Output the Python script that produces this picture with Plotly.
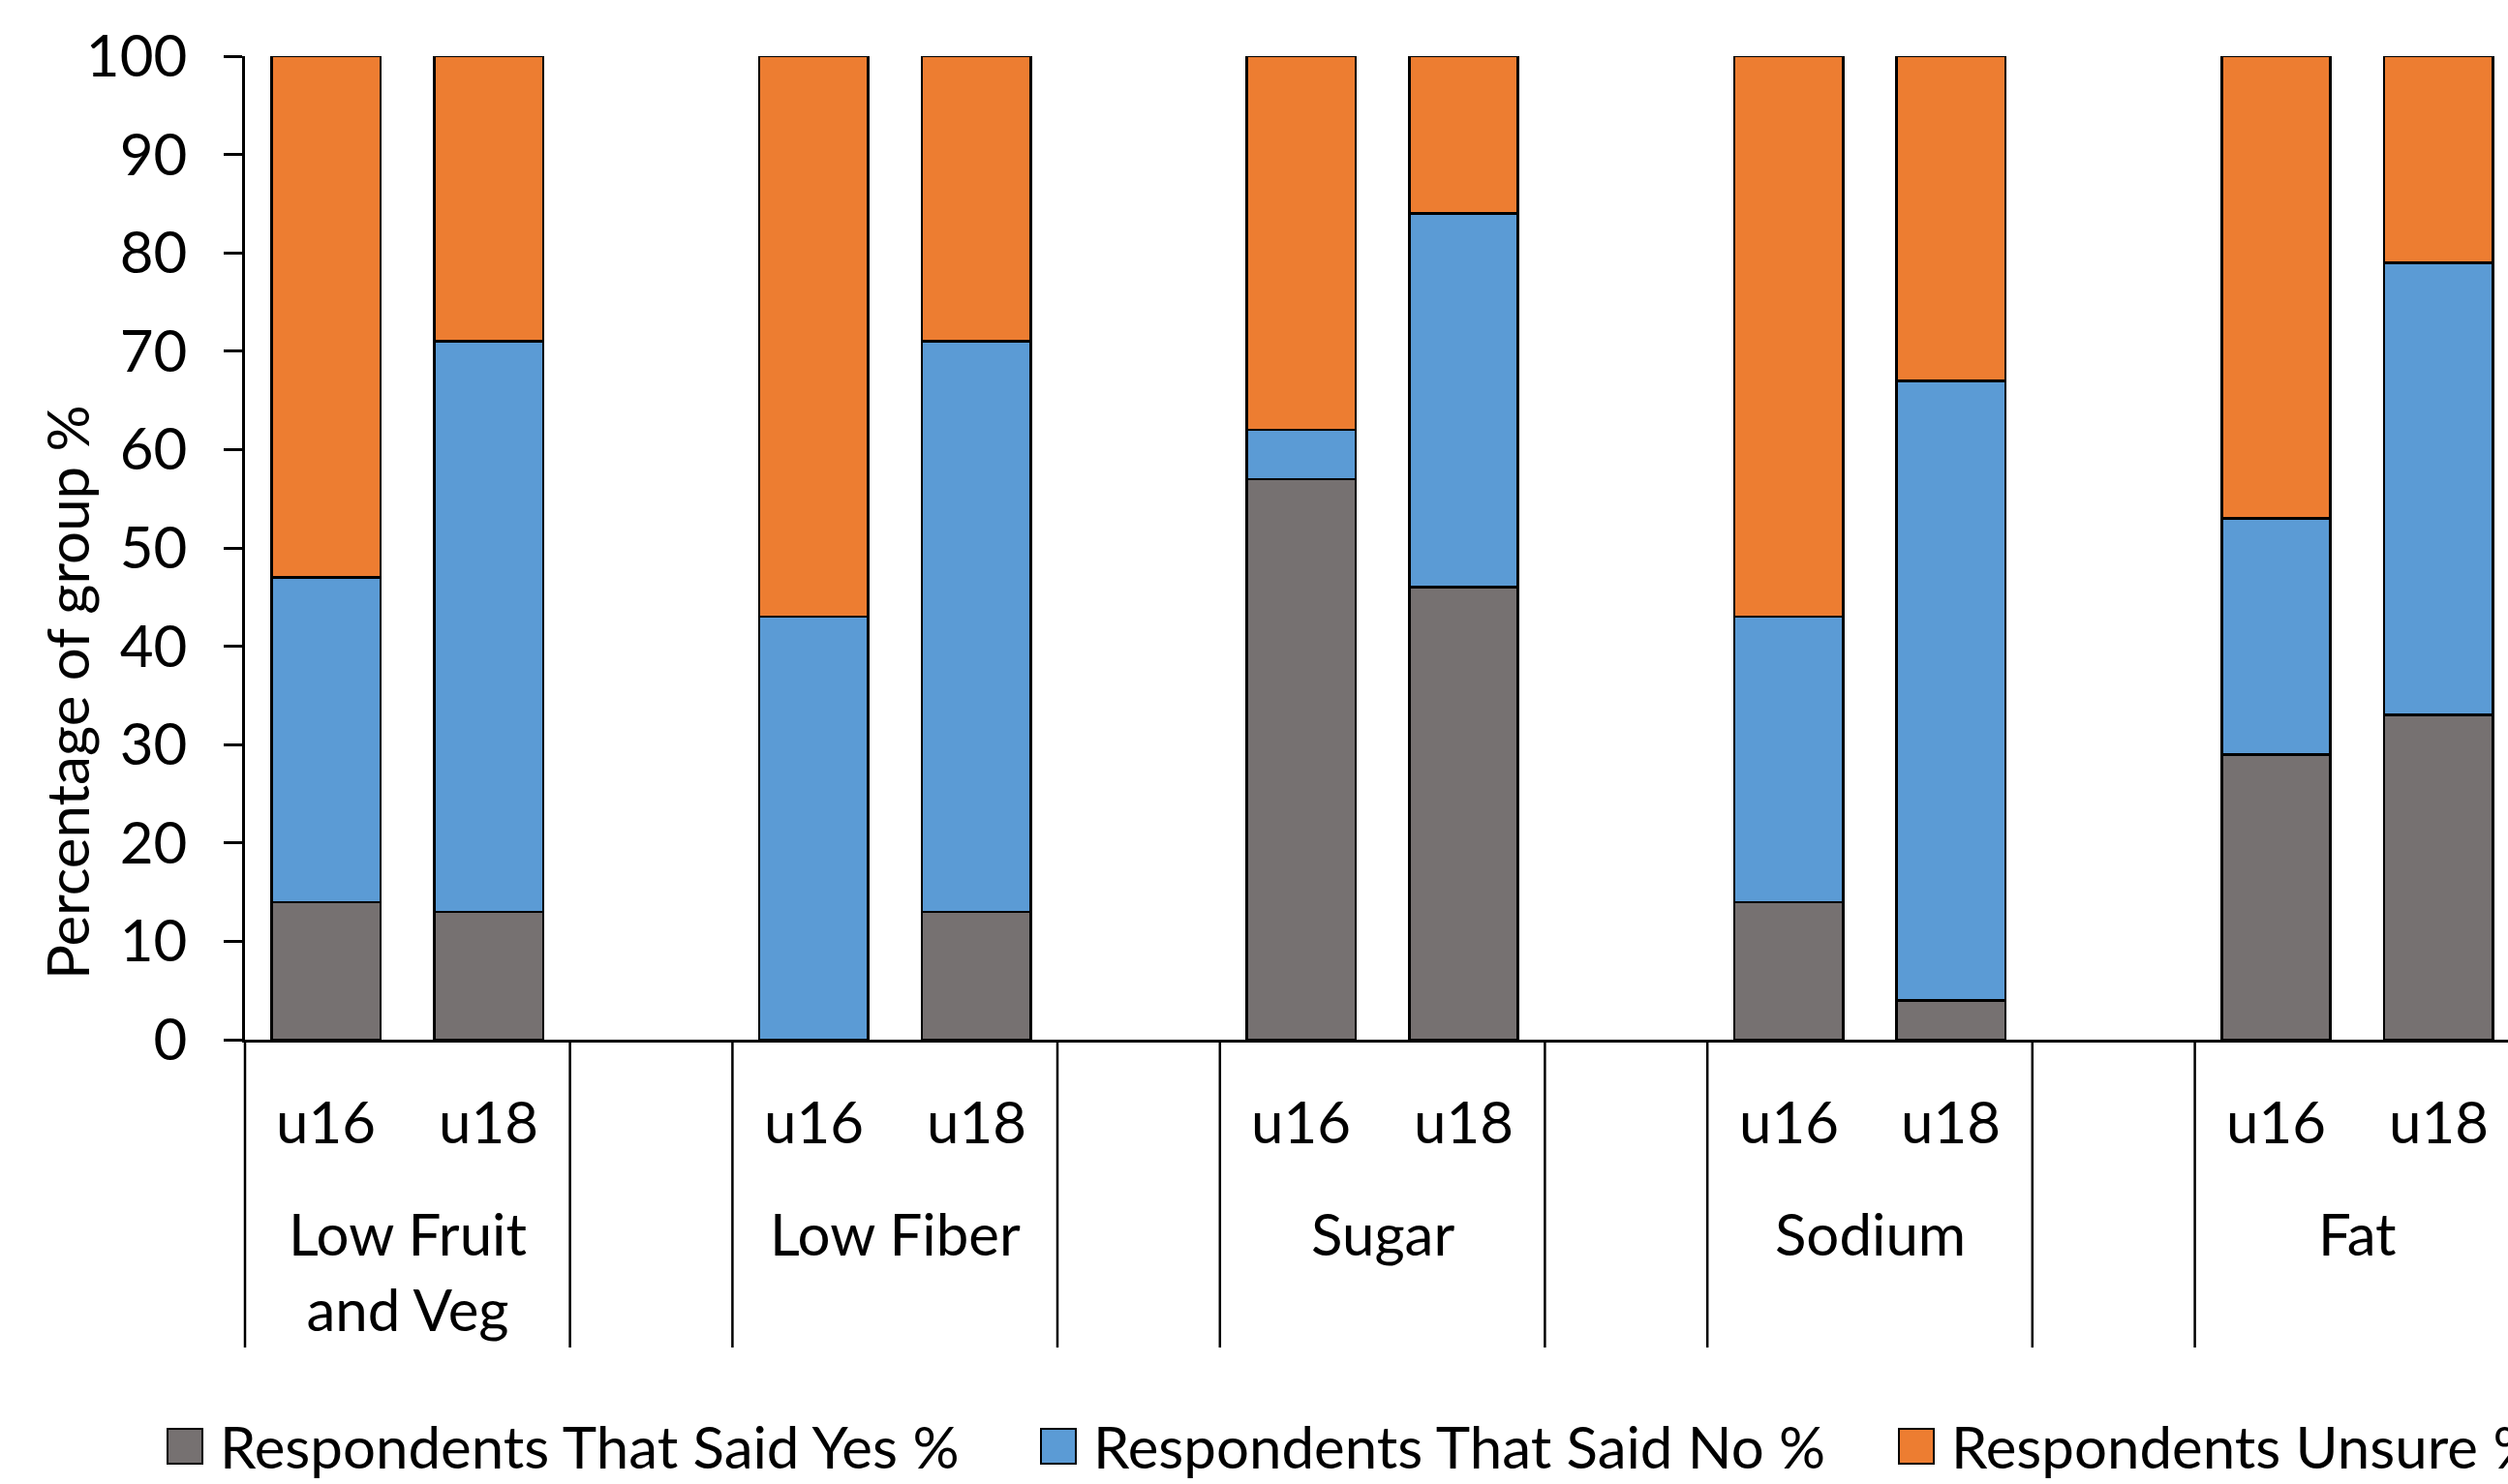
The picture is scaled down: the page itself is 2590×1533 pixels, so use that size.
import plotly.graph_objects as go

# ---- data ----
groups = ["Low Fruit<br>and Veg", "Low Fiber", "Sugar", "Sodium", "Fat"]
ages = ["u16", "u18"]
series_names = ["Respondents That Said Yes %", "Respondents That Said No %", "Respondents Unsure %"]
yes_vals = [14, 13, 0, 13, 57, 46, 14, 4, 29, 33]
no_vals = [33, 58, 43, 58, 5, 38, 29, 63, 24, 46]
unsure_vals = [53, 29, 57, 29, 38, 16, 57, 33, 47, 21]
y_ticks = list(range(0, 101, 10))
colors = ["#767171", "#5B9BD5", "#ED7D31"]

# ---- layout geometry ----
W, H = 2590, 1533
L, T, B = 253, 58, 459
plot_w = W - L
plot_h = H - T - B
slot_px = 167.8
x0 = -0.5
x1 = x0 + plot_w / slot_px
FONT = "Lato"
FS = 60

def px_to_paper_x(px):
    return (px - L) / plot_w

def px_to_paper_y(py):
    return (H - B - py) / plot_h

def data_to_paper_x(xv):
    return (xv - x0) / (x1 - x0)

# each group occupies 2 slots followed by one blank slot
xs = [3 * g + s for g in range(len(groups)) for s in range(len(ages))]

fig = go.Figure()
for name, vals, col in zip(series_names, [yes_vals, no_vals, unsure_vals], colors):
    fig.add_trace(go.Bar(
        x=xs, y=vals, name=name, width=0.67,
        marker=dict(color=col, line=dict(color="black", width=2.5)),
        showlegend=False,
    ))

shapes = []
annotations = []

# category separators (multi-level axis)
sep_bottom = px_to_paper_y(1392)
for g in range(len(groups)):
    for edge in (3 * g - 0.5, 3 * g + 1.5):
        xp = data_to_paper_x(edge)
        if xp <= 1.0:
            shapes.append(dict(type="line", xref="paper", yref="paper",
                               x0=xp, x1=xp, y0=0, y1=sep_bottom,
                               line=dict(color="black", width=2.5)))

# sub-category labels
for i, xv in enumerate(xs):
    annotations.append(dict(x=xv, y=px_to_paper_y(1158), xref="x", yref="paper",
                            text=ages[i % len(ages)], showarrow=False,
                            font=dict(family=FONT, size=FS, color="black"),
                            xanchor="center", yanchor="middle"))
# group labels
for g, gname in enumerate(groups):
    annotations.append(dict(x=3 * g + 0.5, y=px_to_paper_y(1236), xref="x", yref="paper",
                            text=gname, showarrow=False,
                            font=dict(family=FONT, size=FS, color="black"),
                            xanchor="center", yanchor="top", align="center"))

# y-axis title
annotations.append(dict(x=px_to_paper_x(69), y=px_to_paper_y(715), xref="paper", yref="paper",
                        text="Percentage of group %", textangle=-90, showarrow=False,
                        font=dict(family=FONT, size=FS, color="black"),
                        xanchor="center", yanchor="middle"))

# legend (manual, large swatches)
leg_starts = [173, 1075, 1961]
leg_y = 1494
box = 36
for name, col, sx in zip(series_names, colors, leg_starts):
    shapes.append(dict(type="rect", xref="paper", yref="paper",
                       x0=px_to_paper_x(sx), x1=px_to_paper_x(sx + box),
                       y0=px_to_paper_y(leg_y + box / 2), y1=px_to_paper_y(leg_y - box / 2),
                       fillcolor=col, line=dict(color="black", width=2)))
    annotations.append(dict(x=px_to_paper_x(sx + box + 16), y=px_to_paper_y(leg_y),
                            xref="paper", yref="paper", text=name, showarrow=False,
                            font=dict(family=FONT, size=FS, color="black"),
                            xanchor="left", yanchor="middle"))

fig.update_layout(
    barmode="stack",
    width=W, height=H,
    margin=dict(l=L, r=0, t=T, b=B, pad=0),
    paper_bgcolor="white", plot_bgcolor="white",
    font=dict(family=FONT, size=FS, color="black"),
    shapes=shapes, annotations=annotations,
    showlegend=False,
    xaxis=dict(range=[x0, x1], showticklabels=False, ticks="", showgrid=False,
               zeroline=False, showline=True, linecolor="black", linewidth=2.5),
    yaxis=dict(range=[0, 100], tickvals=y_ticks, ticks="outside", ticklen=19,
               tickwidth=2.5, tickcolor="black", showgrid=False, zeroline=False,
               showline=True, linecolor="black", linewidth=2.5,
               tickfont=dict(family=FONT, size=FS, color="black"),
               ticklabelstandoff=26),
)

fig.write_html("out.html")
